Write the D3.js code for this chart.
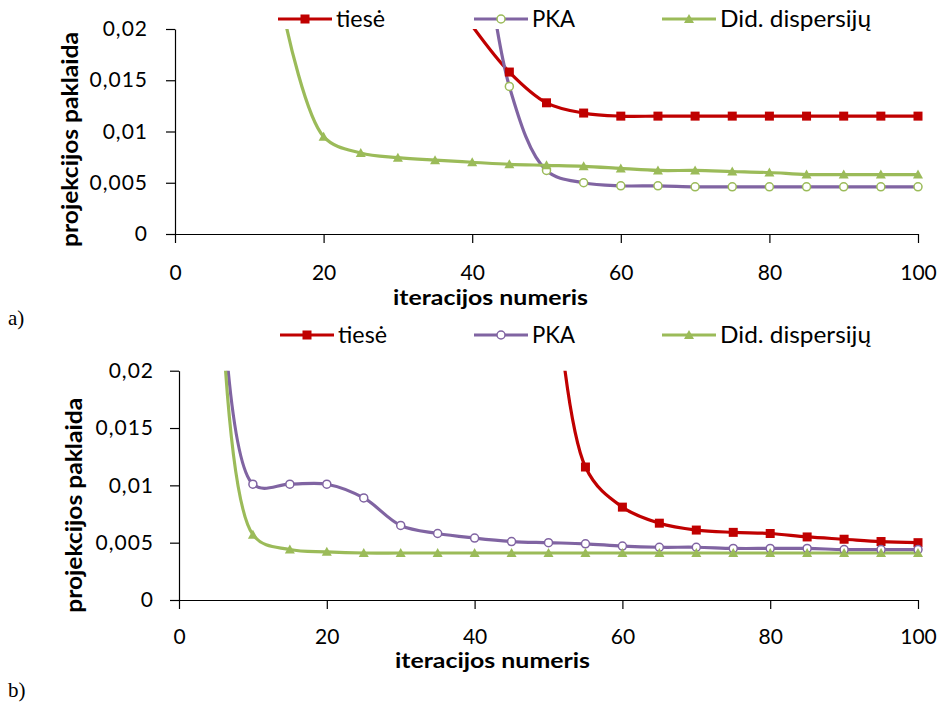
<!DOCTYPE html>
<html>
<head>
<meta charset="utf-8">
<script src="https://cdn.jsdelivr.net/npm/d3@7"></script>
<style>
  body { margin: 0; background: #fff; }
  svg { display: block; }
</style>
</head>
<body>
<div id="content"></div>
<script>
// Duomenys (reiksmes nuskaitytos is paveikslo)
const seriesNames = ['tiesė', 'PKA', 'Did. dispersijų'];
const xTicks = [0, 20, 40, 60, 80, 100];
const yTicks = [0, 0.005, 0.01, 0.015, 0.02];

// a) grafikas
const tieseA_x = [40, 45, 50, 55, 60, 65, 70, 75, 80, 85, 90, 95, 100];
const tieseA_y = [0.0203, 0.0158, 0.0128, 0.0118, 0.0115, 0.0115, 0.0115, 0.0115, 0.0115, 0.0115, 0.0115, 0.0115, 0.0115];
const pkaA_x = [40, 45, 50, 55, 60, 65, 70, 75, 80, 85, 90, 95, 100];
const pkaA_y = [0.038, 0.0144, 0.0062, 0.0050, 0.0047, 0.0047, 0.0046, 0.0046, 0.0046, 0.0046, 0.0046, 0.0046, 0.0046];
const didA_x = [15, 20, 25, 30, 35, 40, 45, 50, 55, 60, 65, 70, 75, 80, 85, 90, 95, 100];
const didA_y = [0.0202, 0.0095, 0.0079, 0.00745, 0.0072, 0.0070, 0.0068, 0.0067, 0.0066, 0.0064, 0.0062, 0.0062, 0.0061, 0.0060, 0.0058, 0.0058, 0.0058, 0.0058];

// b) grafikas
const tieseB_x = [50, 55, 60, 65, 70, 75, 80, 85, 90, 95, 100];
const tieseB_y = [0.035, 0.0116, 0.0081, 0.0067, 0.0061, 0.0059, 0.0058, 0.0055, 0.0053, 0.0051, 0.0050];
const pkaB_x = [5, 10, 15, 20, 25, 30, 35, 40, 45, 50, 55, 60, 65, 70, 75, 80, 85, 90, 95, 100];
const pkaB_y = [0.041, 0.0101, 0.0101, 0.0101, 0.0089, 0.0065, 0.0058, 0.0054, 0.0051, 0.0050, 0.0049, 0.0047, 0.0046, 0.0046, 0.0045, 0.0045, 0.0045, 0.0044, 0.0044, 0.0044];
const didB_x = [5, 10, 15, 20, 25, 30, 35, 40, 45, 50, 55, 60, 65, 70, 75, 80, 85, 90, 95, 100];
const didB_y = [0.042, 0.0057, 0.0044, 0.0042, 0.0041, 0.0041, 0.0041, 0.0041, 0.0041, 0.0041, 0.0041, 0.0041, 0.0041, 0.0041, 0.0041, 0.0041, 0.0041, 0.0041, 0.0041, 0.0041];

const RED = '#C00000', PURPLE = '#8064A2', GREEN = '#9BBB59';
const FONT = 'Lato, "Open Sans", sans-serif';

const lt = d3.formatLocale({decimal: ',', thousands: ' ', grouping: [3], currency: ['', '']});
const yFormat = lt.format('~g');

const zip = (xs, ys) => xs.map((x, i) => ({x: x, y: ys[i]}));

const width = 943, height = 703;
const svg = d3.select('#content')
    .append('svg')
    .attr('width', width)
    .attr('height', height)
    .style('background-color', '#fff');

const drawPanel = (p) => {
    const xScale = d3.scaleLinear().domain([0, 100]).range([p.left, p.right]);
    const yScale = d3.scaleLinear().domain([0, 0.02]).range([p.bottom, p.top]);

    const clipId = 'clip-' + p.id;
    svg.append('clipPath').attr('id', clipId)
        .append('rect')
        .attr('x', p.left - 8).attr('y', p.top)
        .attr('width', p.right - p.left + 16)
        .attr('height', p.bottom - p.top + 8);

    // Asys
    const xAxis = d3.axisBottom(xScale).tickValues(xTicks).tickSize(9).tickSizeOuter(0);
    const gx = svg.append('g')
        .attr('transform', `translate(0, ${p.bottom})`)
        .call(xAxis);
    gx.selectAll('text')
        .attr('y', p.xLabelOffset).attr('dy', '0.35em')
        .style('font-family', FONT).style('font-size', '21px').attr('fill', '#000');

    const yAxis = d3.axisLeft(yScale).tickValues(yTicks).tickFormat(yFormat).tickSize(9).tickSizeOuter(0);
    const gy = svg.append('g')
        .attr('transform', `translate(${p.left}, 0)`)
        .call(yAxis);
    gy.selectAll('text')
        .attr('x', -p.yLabelOffset)
        .style('font-family', FONT).style('font-size', '21px')
        .style('letter-spacing', '1px').attr('fill', '#000');
    svg.selectAll('.domain, .tick line').attr('stroke', '#000').attr('stroke-width', 1.2);

    // Linijos
    const line = d3.line()
        .x(d => xScale(d.x))
        .y(d => yScale(d.y))
        .curve(d3.curveCatmullRom.alpha(0.5));

    const plot = svg.append('g').attr('clip-path', `url(#${clipId})`);
    p.series.forEach(s => {
        plot.append('path')
            .datum(s.data)
            .attr('fill', 'none')
            .attr('stroke', s.color)
            .attr('stroke-width', 3.2)
            .attr('d', line);
    });
    p.series.forEach(s => {
        const pts = s.data.filter(d => d.y <= 0.02);
        drawMarkers(plot, pts.map(d => [xScale(d.x), yScale(d.y)]), s);
    });

    // Legenda
    p.series.forEach((s, i) => {
        const lx = p.legendX[i];
        const g = svg.append('g');
        g.append('line')
            .attr('x1', lx).attr('x2', lx + 54)
            .attr('y1', p.legendY).attr('y2', p.legendY)
            .attr('stroke', s.color).attr('stroke-width', 3.2);
        drawMarkers(g, [[lx + 27, p.legendY]], s);
        g.append('text')
            .attr('x', lx + 58).attr('y', p.legendY)
            .attr('dy', '0.35em')
            .attr('textLength', p.legendLen[i])
            .attr('lengthAdjust', 'spacingAndGlyphs')
            .style('font-family', FONT).style('font-size', '23px')
            .text(seriesNames[i]);
    });

    // Asiu pavadinimai
    svg.append('text')
        .attr('x', (p.left + p.right) / 2 - 56)
        .attr('y', p.xTitleY)
        .attr('dy', '0.35em')
        .attr('text-anchor', 'middle')
        .attr('textLength', 195)
        .attr('lengthAdjust', 'spacingAndGlyphs')
        .style('font-family', FONT).style('font-size', '21px').style('font-weight', 'bold')
        .text('iteracijos numeris');

    svg.append('text')
        .attr('transform', `translate(${p.yTitleX}, ${(p.top + p.bottom) / 2 + p.yTitleShift}) rotate(-90)`)
        .attr('dy', '0.35em')
        .attr('text-anchor', 'middle')
        .attr('textLength', 215)
        .attr('lengthAdjust', 'spacingAndGlyphs')
        .style('font-family', FONT).style('font-size', '22px').style('font-weight', 'bold')
        .text('projekcijos paklaida');

    svg.append('text')
        .attr('x', 8).attr('y', p.tagY)
        .attr('dy', '0.35em')
        .style('font-family', '"Liberation Serif", "Times New Roman", serif')
        .style('font-size', '21px')
        .text(p.tag);
};

const drawMarkers = (g, pts, s) => {
    pts.forEach(([cx, cy]) => {
        if (s.marker === 'square') {
            g.append('rect')
                .attr('x', cx - 4.5).attr('y', cy - 4.5)
                .attr('width', 9).attr('height', 9)
                .attr('fill', s.color);
        } else if (s.marker === 'circle') {
            g.append('circle')
                .attr('cx', cx).attr('cy', cy).attr('r', 4)
                .attr('fill', '#fff')
                .attr('stroke', s.markerStroke).attr('stroke-width', 1.5);
        } else {
            g.append('path')
                .attr('d', `M${cx},${cy - 5}L${cx + 5},${cy + 4}L${cx - 5},${cy + 4}Z`)
                .attr('fill', s.color);
        }
    });
};

drawPanel({
    id: 'a', tag: 'a)',
    left: 175, right: 918, top: 29, bottom: 234,
    xLabelOffset: 39, yLabelOffset: 27,
    xTitleY: 298, yTitleX: 70, yTitleShift: 8, tagY: 318,
    legendY: 19, legendX: [278, 474, 662], legendLen: [49, 43, 151],
    series: [
        {data: zip(tieseA_x, tieseA_y), color: RED, marker: 'square'},
        {data: zip(pkaA_x, pkaA_y), color: PURPLE, marker: 'circle', markerStroke: GREEN},
        {data: zip(didA_x, didA_y), color: GREEN, marker: 'triangle'}
    ]
});

drawPanel({
    id: 'b', tag: 'b)',
    left: 179, right: 918, top: 370.7, bottom: 600,
    xLabelOffset: 37, yLabelOffset: 25,
    xTitleY: 661, yTitleX: 74, yTitleShift: 20, tagY: 690,
    legendY: 335, legendX: [280, 474, 662], legendLen: [49, 43, 151],
    series: [
        {data: zip(tieseB_x, tieseB_y), color: RED, marker: 'square'},
        {data: zip(pkaB_x, pkaB_y), color: PURPLE, marker: 'circle', markerStroke: PURPLE},
        {data: zip(didB_x, didB_y), color: GREEN, marker: 'triangle'}
    ]
});
</script>
</body>
</html>
